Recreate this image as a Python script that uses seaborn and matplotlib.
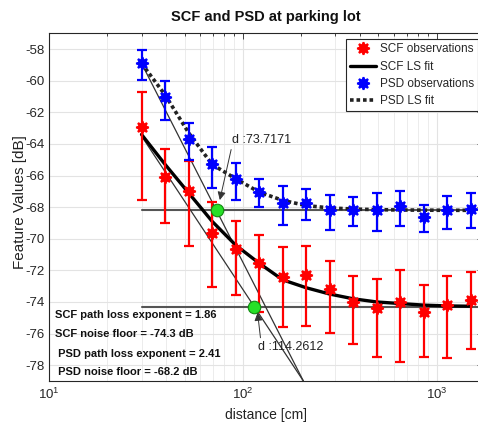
import numpy as np
import pandas as pd
import matplotlib
matplotlib.use("Agg")
import matplotlib.pyplot as plt
from matplotlib.lines import Line2D
import seaborn as sns

# ---------------- data ----------------
dist = [30, 39.7, 52.5, 69.4, 91.7, 121.3, 160.4, 212.1, 280.5, 370.9, 490.5, 648.7, 857.9, 1134.5, 1500]

scf_mean = [-62.93, -66.11, -66.96, -69.62, -70.62, -71.52, -72.40, -72.32, -73.16, -74.00,
            -74.40, -73.97, -74.63, -74.21, -73.87]
scf_err_low = [4.6, 2.9, 3.47, 3.46, 2.96, 3.1, 3.21, 3.23, 2.83, 2.66, 3.06, 3.8, 2.83, 3.35, 3.1]
scf_err_high = [2.2, 1.76, 1.9, 1.92, 1.72, 1.74, 1.88, 1.84, 1.74, 1.64, 1.83, 2.0, 1.7, 1.85, 1.76]

psd_mean = [-58.88, -61.04, -63.70, -65.28, -66.22, -67.02, -67.75, -67.71, -68.19, -68.19,
            -68.19, -67.92, -68.65, -68.19, -68.13]
psd_err_low = [1.05, 1.43, 1.33, 1.52, 1.32, 0.94, 1.41, 1.09, 1.24, 1.03, 1.30, 1.26, 0.90, 1.19, 1.22]
psd_err_high = [0.82, 1.04, 1.05, 1.09, 0.99, 0.78, 1.09, 0.84, 0.96, 0.82, 1.07, 0.96, 0.78, 0.90, 1.05]

scf_fit = [-63.4, -65.3, -67.1, -68.9, -70.4, -71.55, -72.6, -73.1, -73.5, -73.8,
           -74.0, -74.1, -74.2, -74.25, -74.27]
psd_fit = [-58.9, -60.9, -63.3, -65.3, -66.2, -67.05, -67.57, -67.9, -68.05, -68.12,
           -68.16, -68.18, -68.19, -68.2, -68.2]

# straight path-loss lines (end points)
scf_line_x = [30, 205]
scf_line_y = [-63.5, -79.0]
psd_line_x = [30, 205]
psd_line_y = [-58.9, -79.0]

# noise floors
scf_floor = -74.3
psd_floor = -68.2
floor_x = [30, 1800]

# break-points
scf_break = (114.2612, -74.3)
psd_break = (73.7171, -68.2)

info_lines = ["SCF path loss exponent = 1.86",
              "SCF noise floor = -74.3 dB",
              " PSD path loss exponent = 2.41",
              " PSD noise floor = -68.2 dB"]
y_ticks = [-58, -60, -62, -64, -66, -68, -70, -72, -74, -76, -78]

# ---------------- style ----------------
sns.set_theme(style="white")
plt.rcParams['font.family'] = ['Liberation Sans', 'DejaVu Sans']
plt.rcParams['mathtext.fontset'] = 'custom'
plt.rcParams['mathtext.rm'] = 'Liberation Sans'
plt.rcParams['mathtext.it'] = 'Liberation Sans'

W, H = 478, 429
fig = plt.figure(figsize=(W / 100, H / 100), dpi=100)
L, R, T, B = 49, 483, 33.3, 381
ax = fig.add_axes([L / W, (H - B) / H, (R - L) / W, (B - T) / H])

ax.set_xscale('log')
ax.set_xlim(10, 1730)
ax.set_ylim(-79, -57)

# grid
ax.grid(True, which='major', axis='both', color='#e3e3e3', lw=0.8)
ax.grid(True, which='minor', axis='x', color='#ececec', lw=0.7)
ax.set_axisbelow(True)

# floors and straight lines
ax.plot(floor_x, [psd_floor, psd_floor], color='#555555', lw=1.5, zorder=2)
ax.plot(floor_x, [scf_floor, scf_floor], color='#555555', lw=1.5, zorder=2)
ax.plot(psd_line_x, psd_line_y, color='#333333', lw=0.9, zorder=2)
ax.plot(scf_line_x, scf_line_y, color='#333333', lw=0.9, zorder=2)

# fit curves via seaborn
fit_df = pd.DataFrame({'dist': dist, 'scf': scf_fit, 'psd': psd_fit})
sns.lineplot(data=fit_df, x='dist', y='scf', ax=ax, color='black', lw=2.4, zorder=3)
sns.lineplot(data=fit_df, x='dist', y='psd', ax=ax, color='#222222', lw=2.6,
             linestyle=(0, (1, 0.8)), zorder=3)

# error bars
ax.errorbar(dist, scf_mean, yerr=[scf_err_low, scf_err_high], fmt='none', ecolor='red',
            elinewidth=1.6, capsize=3.6, capthick=1.6, zorder=4)
ax.errorbar(dist, psd_mean, yerr=[psd_err_low, psd_err_high], fmt='none', ecolor='blue',
            elinewidth=1.6, capsize=3.6, capthick=1.6, zorder=4)
obs_df = pd.DataFrame({'dist': dist, 'scf': scf_mean, 'psd': psd_mean})
star = (8, 1, 0)
MS, MEW = 9, 1.4
ax.plot(obs_df['dist'], obs_df['scf'], linestyle='none', marker=star, ms=MS, mew=MEW,
        color='red', mec='red', zorder=5)
ax.plot(obs_df['dist'], obs_df['psd'], linestyle='none', marker=star, ms=MS, mew=MEW,
        color='blue', mec='blue', zorder=5)

# break points
ax.plot([psd_break[0]], [psd_break[1]], 'o', ms=9, mfc='#27e027', mec='#108a10', mew=0.8, zorder=6)
ax.plot([scf_break[0]], [scf_break[1]], 'o', ms=9, mfc='#27e027', mec='#108a10', mew=0.8, zorder=6)

# annotations
ax.annotate('d :73.7171', xy=(76.0, -67.55), xytext=(87.7, -63.77),
            fontsize=9, va='center', ha='left', color='#222222',
            arrowprops=dict(arrowstyle='-|>', color='#333333', lw=0.7, mutation_scale=12,
                            shrinkA=0, shrinkB=0,
                            relpos=(0.0, 0.0)), zorder=7)
ax.annotate('d :114.2612', xy=(119.0, -74.67), xytext=(119.0, -76.85),
            fontsize=9, va='center', ha='left', color='#222222',
            arrowprops=dict(arrowstyle='-|>', color='#333333', lw=0.7, mutation_scale=12,
                            shrinkA=0, shrinkB=0,
                            relpos=(0.05, 1.0)), zorder=7)

info_y = [-74.80, -76.02, -77.26, -78.42]
for txt, yy in zip(info_lines, info_y):
    ax.text(10.7, yy, txt, fontsize=8, fontweight='bold', va='center', ha='left',
            color='#111111', zorder=7)

# ticks
ax.set_yticks(y_ticks)
ax.set_yticklabels([str(v) for v in y_ticks])
ax.set_xticks([10, 100, 1000])
ax.set_xticklabels([r'$10^{1}$', r'$10^{2}$', r'$10^{3}$'])
ax.tick_params(axis='both', which='both', direction='in', top=True, right=True,
               labelsize=9.5, colors='#262626', length=4, width=0.6)
ax.tick_params(axis='x', which='minor', length=2.5)
ax.tick_params(axis='y', pad=3)
ax.tick_params(axis='x', pad=4)
for s in ax.spines.values():
    s.set_color('#262626')
    s.set_linewidth(0.8)

ax.set_xlabel('distance [cm]', fontsize=10, color='#222222')
ax.xaxis.set_label_coords(0.5, -(415 - 381) / (B - T), transform=ax.transAxes)
ax.xaxis.label.set_va('center')
ax.set_ylabel('Feature Values [dB]', fontsize=11, color='#222222')
ax.yaxis.set_label_coords(-(49 - 20) / (R - L), 0.515, transform=ax.transAxes)
ax.yaxis.label.set_va('center')
ax.set_title('SCF and PSD at parking lot', fontsize=10.5, fontweight='bold', color='#111111', pad=9)

handles = [
    Line2D([], [], linestyle='none', marker=star, ms=MS, mew=MEW, color='red'),
    Line2D([], [], color='black', lw=2.4),
    Line2D([], [], linestyle='none', marker=star, ms=MS, mew=MEW, color='blue'),
    Line2D([], [], color='#222222', lw=2.6, linestyle=(0, (1, 0.8))),
]
labels = ['SCF observations', 'SCF LS fit', 'PSD observations', 'PSD LS fit']
leg = ax.legend(handles, labels, loc='upper left', bbox_to_anchor=(0.684, 0.983),
                fontsize=8.5, frameon=True, fancybox=False, framealpha=1, edgecolor='#262626',
                borderaxespad=0, handlelength=2.2, handletextpad=0.3, labelspacing=0.45,
                borderpad=0.35)
leg.get_frame().set_linewidth(0.8)

fig.savefig('out.png', dpi=100)
